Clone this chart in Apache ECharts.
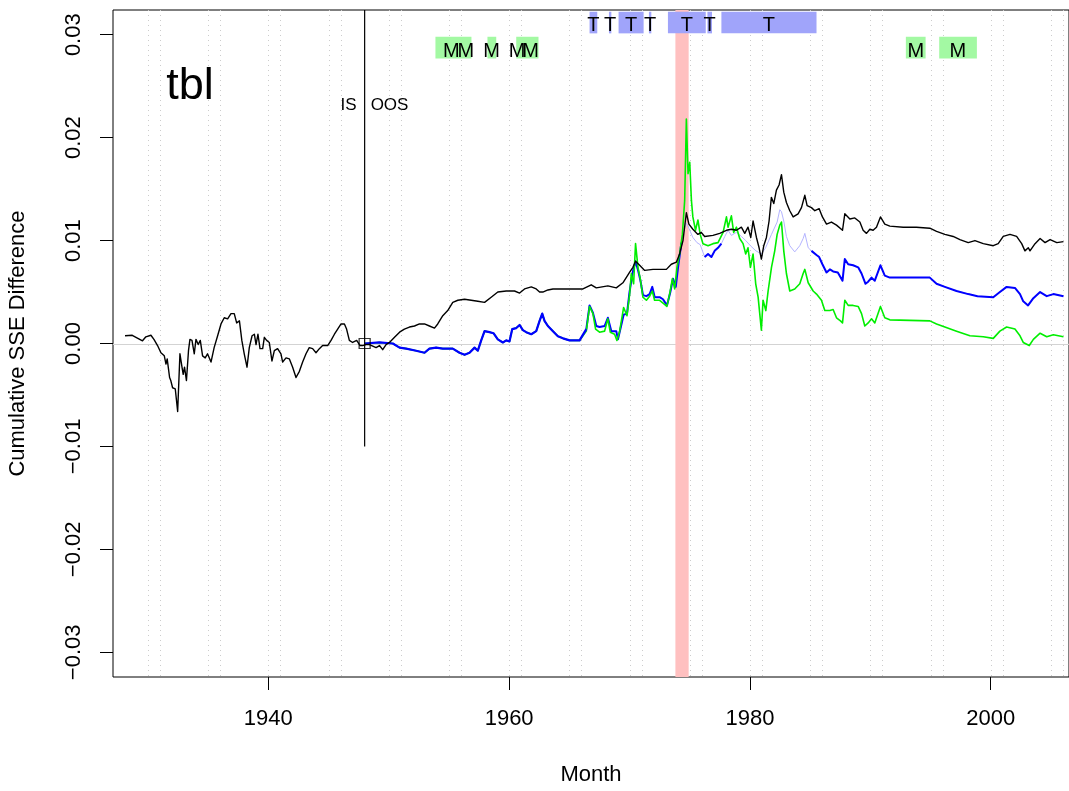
<!DOCTYPE html>
<html>
<head>
<meta charset="utf-8">
<script src="https://cdn.jsdelivr.net/npm/echarts@6/dist/echarts.min.js"></script>
<style>
html,body{margin:0;padding:0;background:#fff;}
#c{width:1069px;height:791px;}
</style>
</head>
<body>
<div id="c"></div>
<script>
// ---------------- data ----------------
const xTicks = [1940, 1960, 1980, 2000];
const yTicks = [-0.03, -0.02, -0.01, 0.00, 0.01, 0.02, 0.03];
const gridYears = [1930,1931,1935,1936,1940,1941,1945,1946,1950,1951,1955,1956,1960,1961,1965,1966,1970,1971,1975,1976,1980,1981,1985,1986,1990,1991,1995,1996,2000,2001,2005,2006];

const black = [
[1928.1,0.00075],[1928.7,0.0008],[1929.55,0.00026],[1929.83,0.00065],[1930.25,0.0008],[1930.5,0.0004],[1930.8,-0.0002],[1931.08,-0.0009],[1931.36,-0.0012],[1931.5,-0.002],[1931.6,-0.0015],[1931.8,-0.0033],[1931.9,-0.0036],[1932.05,-0.0043],[1932.27,-0.0044],[1932.47,-0.0066],[1932.66,-0.001],[1932.83,-0.0023],[1932.93,-0.003],[1933.04,-0.0023],[1933.2,-0.0036],[1933.37,-0.0007],[1933.49,0.0004],[1933.66,0.0003],[1933.85,-0.001],[1933.99,0.0004],[1934.18,-0.0001],[1934.35,0.0003],[1934.54,-0.0012],[1934.76,-0.0014],[1934.95,-0.001],[1935.24,-0.0018],[1935.5,-0.0004],[1935.79,0.00075],[1936.07,0.0019],[1936.34,0.0025],[1936.62,0.0024],[1936.9,0.0029],[1937.17,0.0029],[1937.37,0.002],[1937.6,0.0022],[1937.8,0.0003],[1938.0,-0.001],[1938.23,-0.0023],[1938.42,-0.0004],[1938.65,0.00075],[1938.84,0.0009],[1938.98,-0.0001],[1939.14,0.0009],[1939.31,-0.0005],[1939.53,-0.0005],[1939.67,0.0006],[1939.86,0.0003],[1940.08,0.0001],[1940.3,-0.0017],[1940.5,-0.0007],[1940.77,-0.0005],[1941.05,-0.001],[1941.19,-0.0018],[1941.47,-0.0014],[1941.75,-0.0015],[1942.02,-0.0023],[1942.3,-0.0033],[1942.58,-0.0027],[1942.85,-0.0018],[1943.13,-0.001],[1943.4,-0.0004],[1943.68,-0.0005],[1943.96,-0.0009],[1944.24,-0.0005],[1944.51,-0.0002],[1944.93,-0.0002],[1945.21,0.0003],[1945.49,0.0009],[1945.76,0.0014],[1946.04,0.0019],[1946.32,0.0019],[1946.5,0.0014],[1946.73,0.0003],[1947.0,0.0001],[1947.34,0.0003],[1947.62,-0.0002],[1947.84,-0.0002],[1948.12,-0.0001],
[1948.4,-0.0001],[1948.95,-0.0004],[1949.23,-0.0002],[1949.5,-0.0006],[1949.78,-0.0001],[1950.06,0.0001],[1950.48,0.0006],[1950.9,0.0011],[1951.3,0.0014],[1951.72,0.0016],[1952.14,0.0017],[1952.55,0.0019],[1952.97,0.0019],[1953.38,0.0017],[1953.8,0.0015],[1954.07,0.0019],[1954.49,0.0027],[1954.9,0.0032],[1955.32,0.004],[1955.74,0.0042],[1956.3,0.0043],[1956.85,0.0042],[1957.4,0.0041],[1957.96,0.004],[1958.51,0.0045],[1959.06,0.005],[1959.76,0.0051],[1960.45,0.0051],[1960.87,0.0049],[1961.28,0.0053],[1961.84,0.0055],[1962.25,0.0053],[1962.53,0.005],[1962.8,0.005],[1963.22,0.0052],[1963.64,0.0053],[1964.75,0.0053],[1965.85,0.0053],
[1966.13,0.0053],[1966.82,0.0057],[1967.24,0.0054],[1968.2,0.0056],[1968.9,0.0054],[1969.45,0.0059],[1970.0,0.0069],[1970.28,0.0074],[1970.5,0.008],[1970.84,0.0076],[1971.26,0.0071],[1971.95,0.0072],[1973.06,0.0072],[1973.47,0.0077],[1973.89,0.0079],[1974.16,0.0087],[1974.44,0.01],[1974.72,0.0127],[1974.93,0.0116],[1975.26,0.0111],[1975.68,0.0106],[1975.96,0.0108],[1976.24,0.0104],[1976.93,0.0105],[1977.49,0.0107],[1978.05,0.011],[1978.46,0.0111],[1978.88,0.011],[1979.29,0.0113],[1979.57,0.0107],[1979.84,0.0113],[1980.07,0.0103],[1980.26,0.0119],[1980.54,0.0103],[1980.76,0.0093],[1980.95,0.0082],[1981.15,0.0095],[1981.37,0.0103],[1981.59,0.0119],[1981.78,0.0142],[1981.98,0.0136],[1982.2,0.0149],[1982.42,0.0154],[1982.62,0.0164],[1982.81,0.0147],[1983.03,0.0137],[1983.31,0.0129],[1983.59,0.0123],[1984.0,0.0126],[1984.28,0.0132],[1984.56,0.0144],[1984.75,0.0134],[1985.11,0.0132],[1985.39,0.0129],[1985.75,0.0131],[1986.02,0.0123],[1986.36,0.0116],[1986.77,0.0118],[1987.19,0.0115],[1987.69,0.011],[1987.88,0.0126],[1988.3,0.0121],[1988.71,0.0122],[1989.13,0.0118],[1989.4,0.011],[1989.68,0.0107],[1989.96,0.0111],[1990.23,0.011],[1990.51,0.0113],[1990.84,0.0123],[1991.2,0.0116],[1991.62,0.0114],[1992.73,0.0113],[1993.83,0.0113],[1994.94,0.0112],[1995.5,0.0109],[1996.19,0.0106],[1996.88,0.0104],[1997.44,0.0101],[1998.13,0.0098],[1998.69,0.01],[1999.38,0.0097],[2000.21,0.0095],[2000.62,0.0097],[2001.04,0.0104],[2001.6,0.0106],[2002.15,0.0104],[2002.57,0.0097],[2002.84,0.009],[2003.12,0.0093],[2003.26,0.009],[2003.68,0.0097],[2004.1,0.0102],[2004.51,0.0098],[2004.93,0.0101],[2005.49,0.0098],[2006.04,0.0099]
];

const blue = [
[1948.0,0.0],[1948.12,0.0001],[1949.23,0.0001],[1950.34,0.0],[1950.9,-0.0004],[1951.45,-0.0005],[1952.28,-0.0007],[1952.97,-0.0009],[1953.38,-0.0005],[1953.94,-0.0004],[1954.49,-0.0005],[1955.32,-0.0005],[1955.88,-0.0009],[1956.3,-0.0011],[1956.71,-0.0009],[1957.13,-0.0004],[1957.4,-0.0007],[1957.68,0.0003],[1957.96,0.0012],[1958.37,0.0011],[1958.7,0.001],[1959.06,0.0004],[1959.48,0.0001],[1959.76,0.0003],[1960.03,0.0002],[1960.26,0.0014],[1960.59,0.0015],[1960.87,0.0018],[1961.14,0.0013],[1961.42,0.0011],[1961.84,0.0009],[1962.25,0.0012],[1962.53,0.0022],[1962.75,0.0029],[1962.94,0.0022],[1963.22,0.0017],[1963.64,0.0012],[1964.05,0.0007],[1964.47,0.0005],[1965.02,0.0003],[1965.44,0.0003],[1965.85,0.0003],
[1966.41,0.0014],[1966.68,0.0037],[1966.96,0.003],[1967.24,0.0017],[1967.51,0.0016],[1967.93,0.0017],[1968.2,0.0025],[1968.49,0.0012],[1968.9,0.0012],[1969.04,0.0004],[1969.24,0.0014],[1969.51,0.0028],[1969.79,0.0029],[1970.0,0.005],[1970.24,0.0068],[1970.5,0.008],[1970.69,0.0072],[1970.89,0.0062],[1971.12,0.0047],[1971.4,0.0046],[1971.67,0.0048],[1971.89,0.0055],[1972.09,0.0045],[1972.5,0.0045],[1972.78,0.0043],[1973.11,0.0037],[1973.39,0.005],[1973.61,0.0063],[1973.84,0.0055],[1974.03,0.0074],[1974.31,0.0098],[1974.5,0.011],[1974.72,0.0117],[1974.93,0.0112],[1975.26,0.0103],[1975.6,0.0098],[1975.87,0.0096],[1976.24,0.0084],[1976.52,0.0087],[1976.8,0.0084],[1977.07,0.009],[1977.35,0.0093],[1977.63,0.0097],[1977.91,0.0104],[1978.18,0.011],[1978.46,0.0105],[1978.88,0.0108],[1979.29,0.0104],[1979.65,0.01],[1980.04,0.0095],[1980.5,0.009],[1980.95,0.0087],[1981.3,0.0093],[1981.79,0.0106],[1982.26,0.0118],[1982.48,0.013],[1982.62,0.0128],[1982.81,0.0119],[1983.03,0.0104],[1983.31,0.0095],[1983.72,0.0089],[1984.14,0.0095],[1984.42,0.0102],[1984.56,0.0107],[1984.84,0.0093],[1985.11,0.009],[1985.53,0.0086],[1985.75,0.0084],[1986.02,0.0077],[1986.36,0.0069],[1986.64,0.0072],[1986.91,0.007],[1987.3,0.0069],[1987.69,0.0061],[1987.88,0.0082],[1988.16,0.0077],[1988.57,0.0076],[1988.99,0.0074],[1989.27,0.0068],[1989.6,0.0058],[1989.82,0.006],[1990.1,0.0064],[1990.37,0.0061],[1990.84,0.0076],[1991.2,0.0066],[1991.62,0.0064],[1993.0,0.0064],[1994.94,0.0064],[1995.5,0.0058],[1996.19,0.0055],[1997.16,0.0051],[1998.13,0.0048],[1998.9,0.0046],[2000.21,0.0045],[2000.76,0.005],[2001.32,0.0055],[2002.01,0.0054],[2002.43,0.0048],[2002.7,0.0041],[2003.1,0.0037],[2003.54,0.0044],[2004.1,0.005],[2004.65,0.0046],[2005.2,0.0048],[2006.04,0.0046]
];

const green = [
[1948.0,0.0],[1948.12,0.0001],[1949.23,0.0001],[1950.34,0.0],[1950.9,-0.0004],[1951.45,-0.0005],[1952.28,-0.0007],[1952.97,-0.0009],[1953.38,-0.0005],[1953.94,-0.0004],[1954.49,-0.0005],[1955.32,-0.0005],[1955.88,-0.0009],[1956.3,-0.0011],[1956.71,-0.0009],[1957.13,-0.0004],[1957.4,-0.0007],[1957.68,0.0003],[1957.96,0.0012],[1958.37,0.0011],[1958.7,0.001],[1959.06,0.0004],[1959.48,0.0001],[1959.76,0.0003],[1960.03,0.0002],[1960.26,0.0014],[1960.59,0.0015],[1960.87,0.0018],[1961.14,0.0013],[1961.42,0.0011],[1961.84,0.0009],[1962.25,0.0012],[1962.53,0.0022],[1962.75,0.0029],[1962.94,0.0022],[1963.22,0.0017],[1963.64,0.0012],[1964.05,0.0007],[1964.47,0.0005],[1965.02,0.0003],[1965.44,0.0003],[1965.85,0.0003],
[1966.41,0.0012],[1966.68,0.0036],[1966.96,0.0029],[1967.18,0.0014],[1967.51,0.0011],[1967.93,0.0012],[1968.2,0.0024],[1968.4,0.0011],[1968.76,0.0009],[1968.95,0.0003],[1969.18,0.0012],[1969.51,0.0035],[1969.79,0.0027],[1970.01,0.0048],[1970.15,0.0068],[1970.34,0.0058],[1970.5,0.0097],[1970.7,0.0074],[1970.89,0.0063],[1971.11,0.0045],[1971.4,0.0042],[1971.67,0.0046],[1971.89,0.0051],[1972.08,0.0042],[1972.5,0.0042],[1972.91,0.0038],[1973.1,0.0036],[1973.33,0.0048],[1973.56,0.0063],[1973.75,0.0053],[1973.94,0.0074],[1974.16,0.0087],[1974.39,0.0106],[1974.58,0.0139],[1974.72,0.0218],[1974.86,0.0165],[1975.0,0.0176],[1975.14,0.0139],[1975.26,0.0123],[1975.48,0.011],[1975.68,0.012],[1975.87,0.0106],[1976.1,0.0097],[1976.52,0.0095],[1976.93,0.0097],[1977.35,0.0098],[1977.77,0.0108],[1978.05,0.0123],[1978.18,0.0113],[1978.46,0.0124],[1978.65,0.0108],[1978.88,0.0113],[1979.15,0.0102],[1979.43,0.0097],[1979.65,0.0087],[1979.84,0.0093],[1980.04,0.0074],[1980.26,0.0087],[1980.48,0.0058],[1980.68,0.0045],[1980.95,0.0013],[1981.09,0.0042],[1981.32,0.0032],[1981.51,0.0051],[1981.79,0.0074],[1982.06,0.009],[1982.26,0.0106],[1982.48,0.0115],[1982.62,0.0118],[1982.81,0.009],[1983.03,0.0068],[1983.31,0.0051],[1983.72,0.0053],[1984.14,0.0058],[1984.42,0.0068],[1984.56,0.0072],[1984.84,0.0059],[1985.25,0.0051],[1985.53,0.0048],[1985.94,0.0042],[1986.22,0.0032],[1986.64,0.0032],[1986.91,0.0033],[1987.19,0.0025],[1987.52,0.0022],[1987.69,0.002],[1987.88,0.0042],[1988.16,0.0037],[1988.57,0.0037],[1988.99,0.0036],[1989.27,0.0029],[1989.54,0.0017],[1989.82,0.002],[1990.1,0.0024],[1990.37,0.002],[1990.84,0.0036],[1991.2,0.0025],[1991.62,0.0023],[1994.94,0.0022],[1995.5,0.0019],[1996.19,0.0016],[1997.16,0.0012],[1998.27,0.00075],[1999.38,0.00065],[2000.21,0.0005],[2000.76,0.0012],[2001.32,0.0016],[2002.01,0.0014],[2002.43,0.00075],[2002.7,0.0001],[2003.2,-0.0002],[2003.54,0.0004],[2004.1,0.001],[2004.65,0.00065],[2005.2,0.00085],[2006.04,0.00065]
];

// periods where the blue line is drawn thin/faint
const blueFaintRanges = [[1974.4, 1976.2], [1977.7, 1985.1]];
const blueOnTopUntil = 1966.41;

// shaded periods
const redBand = [[1973.81, 1974.91]];
const tBoxes = [[1966.68,1967.32],[1968.29,1968.49],[1969.09,1971.17],[1971.61,1971.81],[1973.19,1976.33],[1976.47,1976.85],[1977.63,1985.53]];
const tLabels = [1967.0, 1968.39, 1970.13, 1971.71, 1974.76, 1976.66, 1981.58];
const mBoxes = [[1953.88,1956.87],[1958.2,1958.93],[1960.59,1962.44],[1992.95,1994.59],[1995.72,1998.85]];
const mLabels = [1955.19, 1956.4, 1958.54, 1960.66, 1961.78, 1993.78, 1997.27];
const tBoxY = [0.03013, 0.03223];
const mBoxY = [0.02769, 0.02980];
const tLabelY = 0.03094;
const mLabelY = 0.02841;

const splitYear = 1948;
const splitLineBottom = -0.01;

// ---------------- chart ----------------
const X_MIN = 1927.1, X_MAX = 2006.5, Y_MIN = -0.0324, Y_MAX = 0.0324;
const FONT = 'Liberation Sans, Arial, Helvetica, sans-serif';

function inFaint(x){ return blueFaintRanges.some(r => x > r[0] && x < r[1]); }
function segments(points, keep){
  const out = []; let cur = [];
  points.forEach(p => { if (keep(p[0])) cur.push(p); else { if (cur.length > 1) out.push(cur); cur = []; } });
  if (cur.length > 1) out.push(cur);
  return out;
}
const blueEarly = blue.filter(p => p[0] <= blueOnTopUntil);
const blueLateSegs = segments(blue.filter(p => p[0] >= blueOnTopUntil), x => !inFaint(x));

function lineSeries(data, color, width, z){
  return { type:'line', data, showSymbol:false, symbol:'none', silent:true, animation:false, z,
    lineStyle:{ color, width, join:'round' }, clip:true };
}

function rectSeries(boxes, yRange, color, z){
  return {
    type:'custom', z, silent:true, animation:false, clip:true,
    data: boxes.map(b => [b[0], b[1], yRange ? yRange[0] : Y_MIN, yRange ? yRange[1] : Y_MAX]),
    encode:{ x:[0,1], y:[2,3] },
    renderItem(params, api){
      const p0 = api.coord([api.value(0), api.value(3)]);
      const p1 = api.coord([api.value(1), api.value(2)]);
      return { type:'rect', shape:{ x:p0[0], y:p0[1], width:p1[0]-p0[0], height:p1[1]-p0[1] },
        style:{ fill:color } };
    }
  };
}

const series = [];
// dotted vertical grid lines
series.push({
  type:'custom', z:0, silent:true, animation:false,
  data: gridYears.map(y => [y, 0]), encode:{ x:0, y:1 },
  renderItem(params, api){
    const cs = params.coordSys;
    const x = Math.round(api.coord([api.value(0), 0])[0]) + 0.5;
    return { type:'line', shape:{ x1:x, y1:cs.y, x2:x, y2:cs.y+cs.height },
      style:{ stroke:'#cccccc', lineWidth:1, lineDash:[1,4] } };
  }
});
// zero line
series.push({
  type:'custom', z:0, silent:true, animation:false,
  data: [[X_MIN, 0]], encode:{ x:0, y:1 },
  renderItem(params, api){
    const cs = params.coordSys;
    const y = Math.round(api.coord([X_MIN, 0])[1]) + 0.5;
    return { type:'line', shape:{ x1:cs.x, y1:y, x2:cs.x+cs.width, y2:y },
      style:{ stroke:'#d3d3d3', lineWidth:1 } };
  }
});
series.push(rectSeries(redBand, null, '#ffc0c0', 1));
series.push(rectSeries(tBoxes, tBoxY, '#a0a4fa', 2));
series.push(rectSeries(mBoxes, mBoxY, '#a3f9a3', 2));

series.push(lineSeries(blue, '#b4b4ff', 1, 3));
blueLateSegs.forEach(s => series.push(lineSeries(s, '#0000ff', 2, 3)));
series.push(lineSeries(green, '#00ee00', 1.6, 4));
series.push(lineSeries(blueEarly, '#0000ff', 2.2, 5));
series.push(lineSeries(black, '#000000', 1.4, 6));

// IS/OOS split line
series.push({
  type:'custom', z:7, silent:true, animation:false,
  data: [[splitYear, splitLineBottom]], encode:{ x:0, y:1 },
  renderItem(params, api){
    const cs = params.coordSys;
    const p = api.coord([api.value(0), api.value(1)]);
    const x = p[0];
    return { type:'line', shape:{ x1:x, y1:cs.y, x2:x, y2:p[1] },
      style:{ stroke:'#000', lineWidth:1.2 } };
  }
});
// open square at split point
series.push({
  type:'scatter', z:7, silent:true, animation:false,
  data: [[splitYear, 0]], symbol:'rect', symbolSize:[11,10],
  itemStyle:{ color:'rgba(0,0,0,0)', borderColor:'#000', borderWidth:1.2 }
});

// text annotations, drawn as plain text elements at data positions
function textSeries(items, fontSize, align, dx){
  return {
    type:'custom', z:8, silent:true, animation:false, clip:false,
    data: items.map(it => [it.v[0], it.v[1], it.t]),
    encode:{ x:0, y:1 },
    renderItem(params, api){
      const p = api.coord([api.value(0), api.value(1)]);
      return { type:'text', x:p[0] + dx, y:p[1],
        style:{ text: items[params.dataIndex].t, fill:'#000', font: fontSize + 'px ' + FONT,
          align, verticalAlign:'middle' } };
    }
  };
}
series.push(textSeries(tLabels.map(x => ({ v:[x, tLabelY], t:'T' })), 20, 'center', 0));
series.push(textSeries(mLabels.map(x => ({ v:[x, mLabelY], t:'M' })), 20, 'center', 0));
series.push(textSeries([{ v:[1933.5, 0.0250], t:'tbl' }], 45, 'center', 0));
series.push(textSeries([{ v:[splitYear, 0.0231], t:'IS' }], 17, 'right', -8));
series.push(textSeries([{ v:[splitYear, 0.0231], t:'OOS' }], 17, 'left', 6));

const fmtY = v => (v < 0 ? '\u2212' : '') + Math.abs(v).toFixed(2);

const chart = echarts.init(document.getElementById('c'), null, { renderer:'canvas' });
chart.setOption({
  animation:false,
  backgroundColor:'#ffffff',
  textStyle:{ fontFamily: FONT },
  grid:{ left:113, top:10, right:0, bottom:114, show:true, borderColor:'#000', borderWidth:1,
    containLabel:false, outerBoundsMode:'none' },
  xAxis:{
    type:'value', min:X_MIN, max:X_MAX,
    name:'Month', nameLocation:'middle', nameGap:87,
    nameTextStyle:{ fontSize:22, color:'#000', fontFamily:FONT },
    axisLine:{ show:false, onZero:false },
    splitLine:{ show:false },
    axisTick:{ show:true, length:13, customValues:xTicks, lineStyle:{ color:'#000', width:1 } },
    axisLabel:{ customValues:xTicks, fontSize:22, color:'#000', margin:31, fontFamily:FONT,
      formatter: v => String(v) }
  },
  yAxis:{
    type:'value', min:Y_MIN, max:Y_MAX,
    name:'Cumulative SSE Difference', nameLocation:'middle', nameGap:84,
    nameTextStyle:{ fontSize:22, color:'#000', fontFamily:FONT },
    axisLine:{ show:false, onZero:false },
    splitLine:{ show:false },
    axisTick:{ show:true, length:13, customValues:yTicks, lineStyle:{ color:'#000', width:1 } },
    axisLabel:{ customValues:yTicks, fontSize:22, color:'#000', margin:28, rotate:90, fontFamily:FONT,
      formatter: fmtY }
  },
  series
});
</script>
</body>
</html>
